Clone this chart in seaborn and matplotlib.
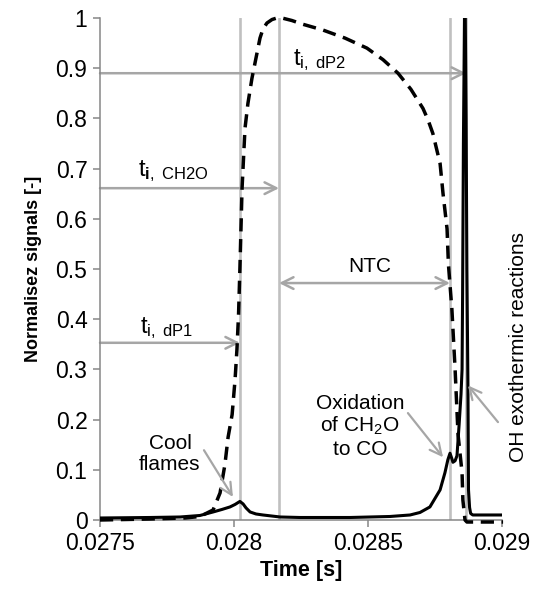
import numpy as np
import pandas as pd
import matplotlib
matplotlib.use("Agg")
import matplotlib.pyplot as plt
import seaborn as sns

# ---- data ----
solid_t = [0.027500, 0.027687, 0.027799, 0.027873, 0.027922, 0.027955, 0.027985, 0.028004,
           0.028022, 0.028034, 0.028045, 0.028060, 0.028082, 0.028108, 0.028172, 0.028246,
           0.028433, 0.028582, 0.028657, 0.028694, 0.028731, 0.028769, 0.028787, 0.028798,
           0.028806, 0.028813, 0.028817, 0.028825, 0.028832, 0.028840, 0.028847, 0.028851,
           0.028853, 0.028856, 0.028860, 0.028863, 0.028866, 0.028869, 0.028873, 0.028875,
           0.028879, 0.028883, 0.028891, 0.028903, 0.029004]
solid_y = [0.004, 0.005, 0.006, 0.009, 0.016, 0.021, 0.026, 0.031,
           0.037, 0.032, 0.024, 0.016, 0.012, 0.010, 0.006, 0.005,
           0.005, 0.007, 0.010, 0.015, 0.026, 0.060, 0.094, 0.120,
           0.133, 0.122, 0.115, 0.118, 0.128, 0.190, 0.250, 0.300,
           0.450, 0.750, 1.000, 1.000, 0.800, 0.500, 0.260, 0.060,
           0.025, 0.013, 0.010, 0.010, 0.010]

dash_t = [0.027500, 0.027687, 0.027817, 0.027873, 0.027922, 0.027948, 0.027966, 0.027978,
          0.027993, 0.028004, 0.028011, 0.028017, 0.028022, 0.028026, 0.028030, 0.028041,
          0.028052, 0.028067, 0.028082, 0.028097, 0.028108, 0.028123, 0.028142, 0.028160,
          0.028179, 0.028216, 0.028254, 0.028332, 0.028414, 0.028496, 0.028556, 0.028612,
          0.028660, 0.028705, 0.028724, 0.028742, 0.028769, 0.028780, 0.028795, 0.028800,
          0.028813, 0.028825, 0.028836, 0.028851, 0.028854, 0.028862, 0.028869, 0.029004]
dash_y = [0.000, 0.002, 0.004, 0.007, 0.020, 0.054, 0.110, 0.165,
          0.210, 0.280, 0.340, 0.410, 0.500, 0.580, 0.660, 0.780,
          0.830, 0.880, 0.920, 0.960, 0.978, 0.990, 0.997, 1.000,
          1.000, 0.995, 0.988, 0.976, 0.960, 0.940, 0.917, 0.890,
          0.858, 0.820, 0.797, 0.770, 0.710, 0.650, 0.580, 0.510,
          0.420, 0.300, 0.170, 0.094, 0.040, 0.000, -0.004, -0.004]

vlines_t = [0.028022, 0.028168, 0.028806, 0.028866]

x_ticks = [0.0275, 0.028, 0.0285, 0.029]
x_tick_labels = ["0.0275", "0.028", "0.0285", "0.029"]
y_ticks = [0, 0.1, 0.2, 0.3, 0.4, 0.5, 0.6, 0.7, 0.8, 0.9, 1]
y_tick_labels = ["0", "0.1", "0.2", "0.3", "0.4", "0.5", "0.6", "0.7", "0.8", "0.9", "1"]

# ---- style ----
sns.set_theme(style="ticks")
plt.rcParams["font.family"] = ["Liberation Sans", "DejaVu Sans"]
plt.rcParams["text.color"] = "black"
plt.rcParams["axes.labelcolor"] = "black"
plt.rcParams["mathtext.fontset"] = "custom"
plt.rcParams["mathtext.rm"] = "Liberation Sans"
plt.rcParams["mathtext.it"] = "Liberation Sans:italic"
plt.rcParams["mathtext.bf"] = "Liberation Sans:bold"

AX_GREY = "#868686"
VL_GREY = "#C0C0C0"
AR_GREY = "#A6A6A6"

fig = plt.figure(figsize=(5.33, 5.97), dpi=100)
ax = fig.add_axes([100 / 533, 77 / 597, 402 / 533, 502 / 597])

for xv in vlines_t:
    ax.axvline(xv, color=VL_GREY, lw=1.9, zorder=1)

df_s = pd.DataFrame({"t": solid_t, "y": solid_y})
df_d = pd.DataFrame({"t": dash_t, "y": dash_y})
sns.lineplot(data=df_d, x="t", y="y", ax=ax, color="black", lw=2.5, zorder=3,
             estimator=None, sort=False)
ax.lines[-1].set_dashes((3.8, 2.2))
ax.lines[-1].set_clip_on(False)
sns.lineplot(data=df_s, x="t", y="y", ax=ax, color="black", lw=2.2, zorder=4,
             estimator=None, sort=False)

ax.set_xlim(0.0275, 0.029)
ax.set_ylim(0, 1)
ax.set_xticks(x_ticks)
ax.set_xticklabels(x_tick_labels)
ax.set_yticks(y_ticks)
ax.set_yticklabels(y_tick_labels)
ax.tick_params(axis="both", labelsize=16.5, colors=AX_GREY, labelcolor="black",
               length=5, width=1.1, pad=4)
for s in ["top", "right"]:
    ax.spines[s].set_visible(False)
for s in ["left", "bottom"]:
    ax.spines[s].set_color(AX_GREY)
    ax.spines[s].set_linewidth(1.1)

ax.set_xlabel("Time [s]", fontsize=15.5, fontweight="bold", labelpad=3)
ax.set_ylabel("Normalisez signals [-]", fontsize=13, fontweight="bold", labelpad=10)

# ---- horizontal timing arrows ----
def harrow(x0, x1, y, style="->"):
    ax.annotate("", xy=(x1, y), xytext=(x0, y),
                arrowprops=dict(arrowstyle=f"{style},head_length=0.7,head_width=0.35",
                                color=AR_GREY, lw=1.8, shrinkA=0, shrinkB=0),
                zorder=2)

harrow(0.0275, vlines_t[3], 0.890)
harrow(0.0275, vlines_t[1], 0.661)
harrow(0.0275, vlines_t[0], 0.353)
harrow(vlines_t[1], vlines_t[2], 0.472, style="<->")

ax.text(0.02822, 0.906, r"$\mathrm{t_{i,\ dP2}}$", fontsize=17, ha="left", va="baseline")
ax.text(0.027642, 0.685, r"$\mathrm{t_{\mathbf{i},\ CH2O}}$", fontsize=17, ha="left", va="baseline")
ax.text(0.027649, 0.3725, r"$\mathrm{t_{i,\ dP1}}$", fontsize=17, ha="left", va="baseline")
ax.text(0.028507, 0.504, "NTC", fontsize=15, ha="center", va="center")

# ---- annotations ----
def note_arrow(xy_from, xy_to):
    ax.annotate("", xy=xy_to, xytext=xy_from,
                arrowprops=dict(arrowstyle="->,head_length=0.7,head_width=0.35",
                                color=AR_GREY, lw=1.6, shrinkA=0, shrinkB=0),
                zorder=5, annotation_clip=False)

ax.text(0.027761, 0.131, "Cool\nflames", fontsize=15, ha="center", va="center",
        linespacing=1.15)
note_arrow((0.027888, 0.139), (0.027996, 0.046))

ax.text(0.02847, 0.187, "Oxidation\nof CH$_2$O\nto CO", fontsize=15, ha="center",
        va="center", linespacing=1.15)
note_arrow((0.028649, 0.213), (0.028780, 0.125))

ax.text(0.029063, 0.345, "OH exothermic reactions", fontsize=15, ha="center",
        va="center", rotation=90, clip_on=False)
note_arrow((0.028985, 0.195), (0.028873, 0.268))

fig.savefig("out.png", dpi=100)
